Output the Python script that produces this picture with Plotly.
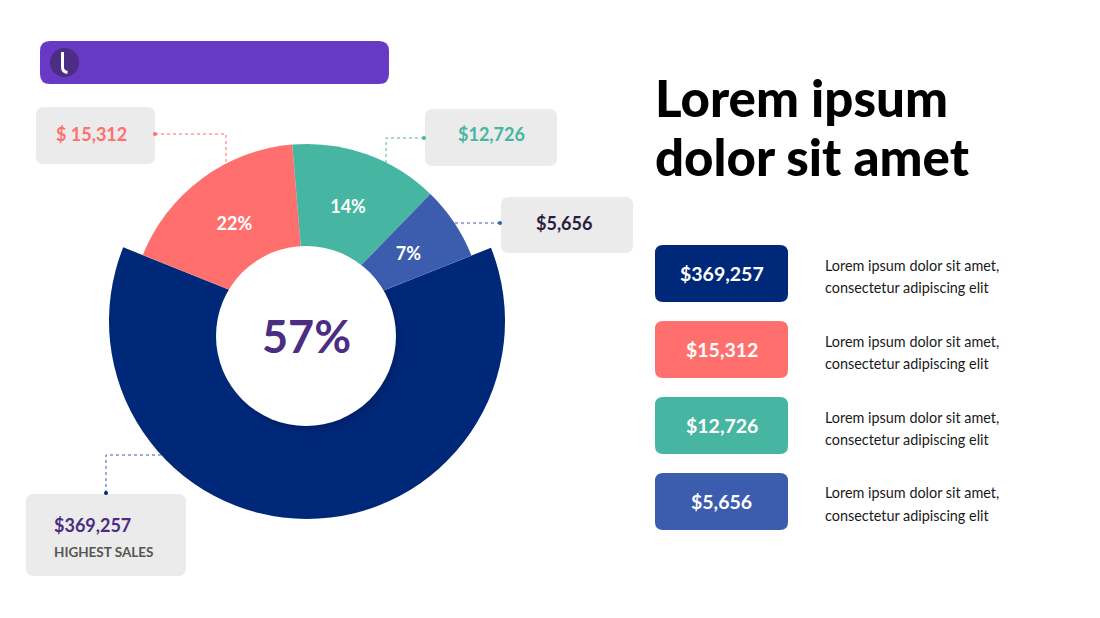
import plotly.graph_objects as go

W, H = 1100, 618
PAGE_OFFSET = 8  # default body margin of the html page

# slice shares as drawn (angles) and the printed labels
slice_shares = [62.1, 17.6, 13.6, 6.7]
pct_labels = ["57%", "22%", "14%", "7%"]
amounts = ["$369,257", "$15,312", "$12,726", "$5,656"]
callout_amounts = ["$369,257", "$ 15,312", "$12,726", "$5,656"]
callout_sub = "HIGHEST SALES"
desc_line1 = ["Lorem ipsum dolor sit amet,"] * 4
desc_line2 = ["consectetur adipiscing elit"] * 4
title_lines = ["Lorem ipsum", "dolor sit amet"]

NAVY = "#002878"
SALMON = "#ff6f6d"
TEAL = "#46b6a3"
BLUE = "#3c5dae"
PURPLE = "#4b2d83"
CLEAR = "rgba(0,0,0,0)"
slice_colors = [NAVY, SALMON, TEAL, BLUE]
FONT = "Lato"

CX, CY = 307, 321


def px(x):
    return (x - PAGE_OFFSET) / W


def py(y):
    return 1 - (y - PAGE_OFFSET) / H


def domain(r):
    return dict(x=[px(CX - r), px(CX + r)], y=[py(CY + r), py(CY - r)])


def rrect(x0, y0, x1, y1, r, color):
    p = (f"M {px(x0 + r)},{py(y0)} L {px(x1 - r)},{py(y0)} "
         f"Q {px(x1)},{py(y0)} {px(x1)},{py(y0 + r)} L {px(x1)},{py(y1 - r)} "
         f"Q {px(x1)},{py(y1)} {px(x1 - r)},{py(y1)} L {px(x0 + r)},{py(y1)} "
         f"Q {px(x0)},{py(y1)} {px(x0)},{py(y1 - r)} L {px(x0)},{py(y0 + r)} "
         f"Q {px(x0)},{py(y0)} {px(x0 + r)},{py(y0)} Z")
    return dict(type="path", path=p, xref="paper", yref="paper",
                fillcolor=color, line=dict(width=0), layer="below")


def circle(cx, cy, r, color, layer="above"):
    return dict(type="circle", xref="paper", yref="paper",
                x0=px(cx - r), x1=px(cx + r), y0=py(cy + r), y1=py(cy - r),
                fillcolor=color, line=dict(width=0), layer=layer)


def polyline(pts, color):
    p = "M " + " L ".join(f"{px(x)},{py(y)}" for x, y in pts)
    return dict(type="path", path=p, xref="paper", yref="paper",
                line=dict(color=color, width=1, dash="dot"), layer="below")


def label(x, y, text, size, color, weight="bold", xanchor="center"):
    if xanchor == "left":
        x -= 2.5  # annotation box padding
    return dict(x=px(x), y=py(y), xref="paper", yref="paper", text=text,
                showarrow=False, xanchor=xanchor, yanchor="middle",
                font=dict(family=FONT, size=size, color=color, weight=weight))


pie_common = dict(values=slice_shares, sort=False, direction="clockwise",
                  rotation=68.3, hoverinfo="skip", showlegend=False)

fig = go.Figure()
# highest-sales slice, drawn with the larger radius
fig.add_trace(go.Pie(**pie_common, domain=domain(198), textinfo="none",
                     marker=dict(colors=[NAVY, CLEAR, CLEAR, CLEAR], line=dict(width=0))))
# the three smaller slices
fig.add_trace(go.Pie(**pie_common, domain=domain(177), textinfo="none",
                     marker=dict(colors=[CLEAR, SALMON, TEAL, BLUE], line=dict(width=0))))
# percentage labels
fig.add_trace(go.Pie(**pie_common, domain=domain(147), hole=0.66,
                     text=[""] + pct_labels[1:], textinfo="text",
                     textposition="inside", insidetextorientation="horizontal",
                     textfont=dict(family=FONT, size=18, color="white", weight="bold"),
                     marker=dict(colors=[CLEAR] * 4, line=dict(width=0))))

shapes = []
# top banner with logo
shapes.append(rrect(40, 41, 389, 84, 10, "#6739c4"))
shapes.append(circle(64.5, 62.5, 14.5, PURPLE))
shapes.append(dict(type="path", xref="paper", yref="paper",
                   path=f"M {px(62.5)},{py(52)} L {px(62.5)},{py(67)} Q {px(62.5)},{py(72)} {px(67.5)},{py(72.5)}",
                   line=dict(color="white", width=3), layer="above"))

# callout boxes and connectors
GREY = "#ebebeb"
shapes.append(rrect(36, 107, 155, 164, 8, GREY))
shapes.append(rrect(425, 109, 557, 166, 8, GREY))
shapes.append(rrect(501, 197, 633, 253, 8, GREY))
shapes.append(rrect(26, 494, 186, 576, 8, GREY))
shapes.append(polyline([(155, 134), (226, 134), (226, 175)], SALMON))
shapes.append(polyline([(424, 138), (386, 138), (386, 175)], TEAL))
shapes.append(polyline([(500, 223), (452, 223)], BLUE))
shapes.append(polyline([(106, 493), (106, 455), (170, 455)], BLUE))
for (x, y), c in zip([(155, 134), (424, 138), (500, 223), (106, 493)],
                     [SALMON, TEAL, BLUE, NAVY]):
    shapes.append(circle(x, y, 2, c, layer="below"))

# centre disc with soft shadow
for i, a in enumerate([0.05, 0.04, 0.03]):
    shapes.append(circle(306 + 2 + i * 2, 336 + 3 + i * 2, 90 + i, f"rgba(0,0,30,{a})"))
shapes.append(circle(306, 336, 90, "white"))

# value boxes on the right
box_tops = [245, 321, 397, 473]
for top, c in zip(box_tops, slice_colors):
    shapes.append(rrect(655, top, 788, top + 57, 8, c))

annotations = []
annotations.append(label(306, 336, pct_labels[0], 45, PURPLE))
annotations.append(label(56, 134, callout_amounts[1], 18, SALMON, xanchor="left"))
annotations.append(label(491, 134, callout_amounts[2], 18, TEAL))
annotations.append(label(564, 223, callout_amounts[3], 18, "#2b1d3f"))
annotations.append(label(54, 525, callout_amounts[0], 18, PURPLE, xanchor="left"))
annotations.append(label(54, 552, callout_sub, 13.5, "#555555", xanchor="left"))

annotations.append(label(655, 98, title_lines[0], 51, "#000000", weight=900, xanchor="left"))
annotations.append(label(655, 156, title_lines[1], 51, "#000000", weight=900, xanchor="left"))

for top, amt, l1, l2 in zip(box_tops, amounts, desc_line1, desc_line2):
    annotations.append(label(721.5, top + 28.5, amt, 19.5, "white"))
    annotations.append(label(825, top + 20, l1, 14.4, "#1a1a1a", weight="normal", xanchor="left"))
    annotations.append(label(825, top + 42, l2, 14.4, "#1a1a1a", weight="normal", xanchor="left"))

fig.update_layout(
    width=W, height=H,
    margin=dict(l=0, r=0, t=0, b=0),
    paper_bgcolor="white", plot_bgcolor="white",
    shapes=shapes, annotations=annotations,
    font=dict(family=FONT),
)

fig.write_html("out.html")
